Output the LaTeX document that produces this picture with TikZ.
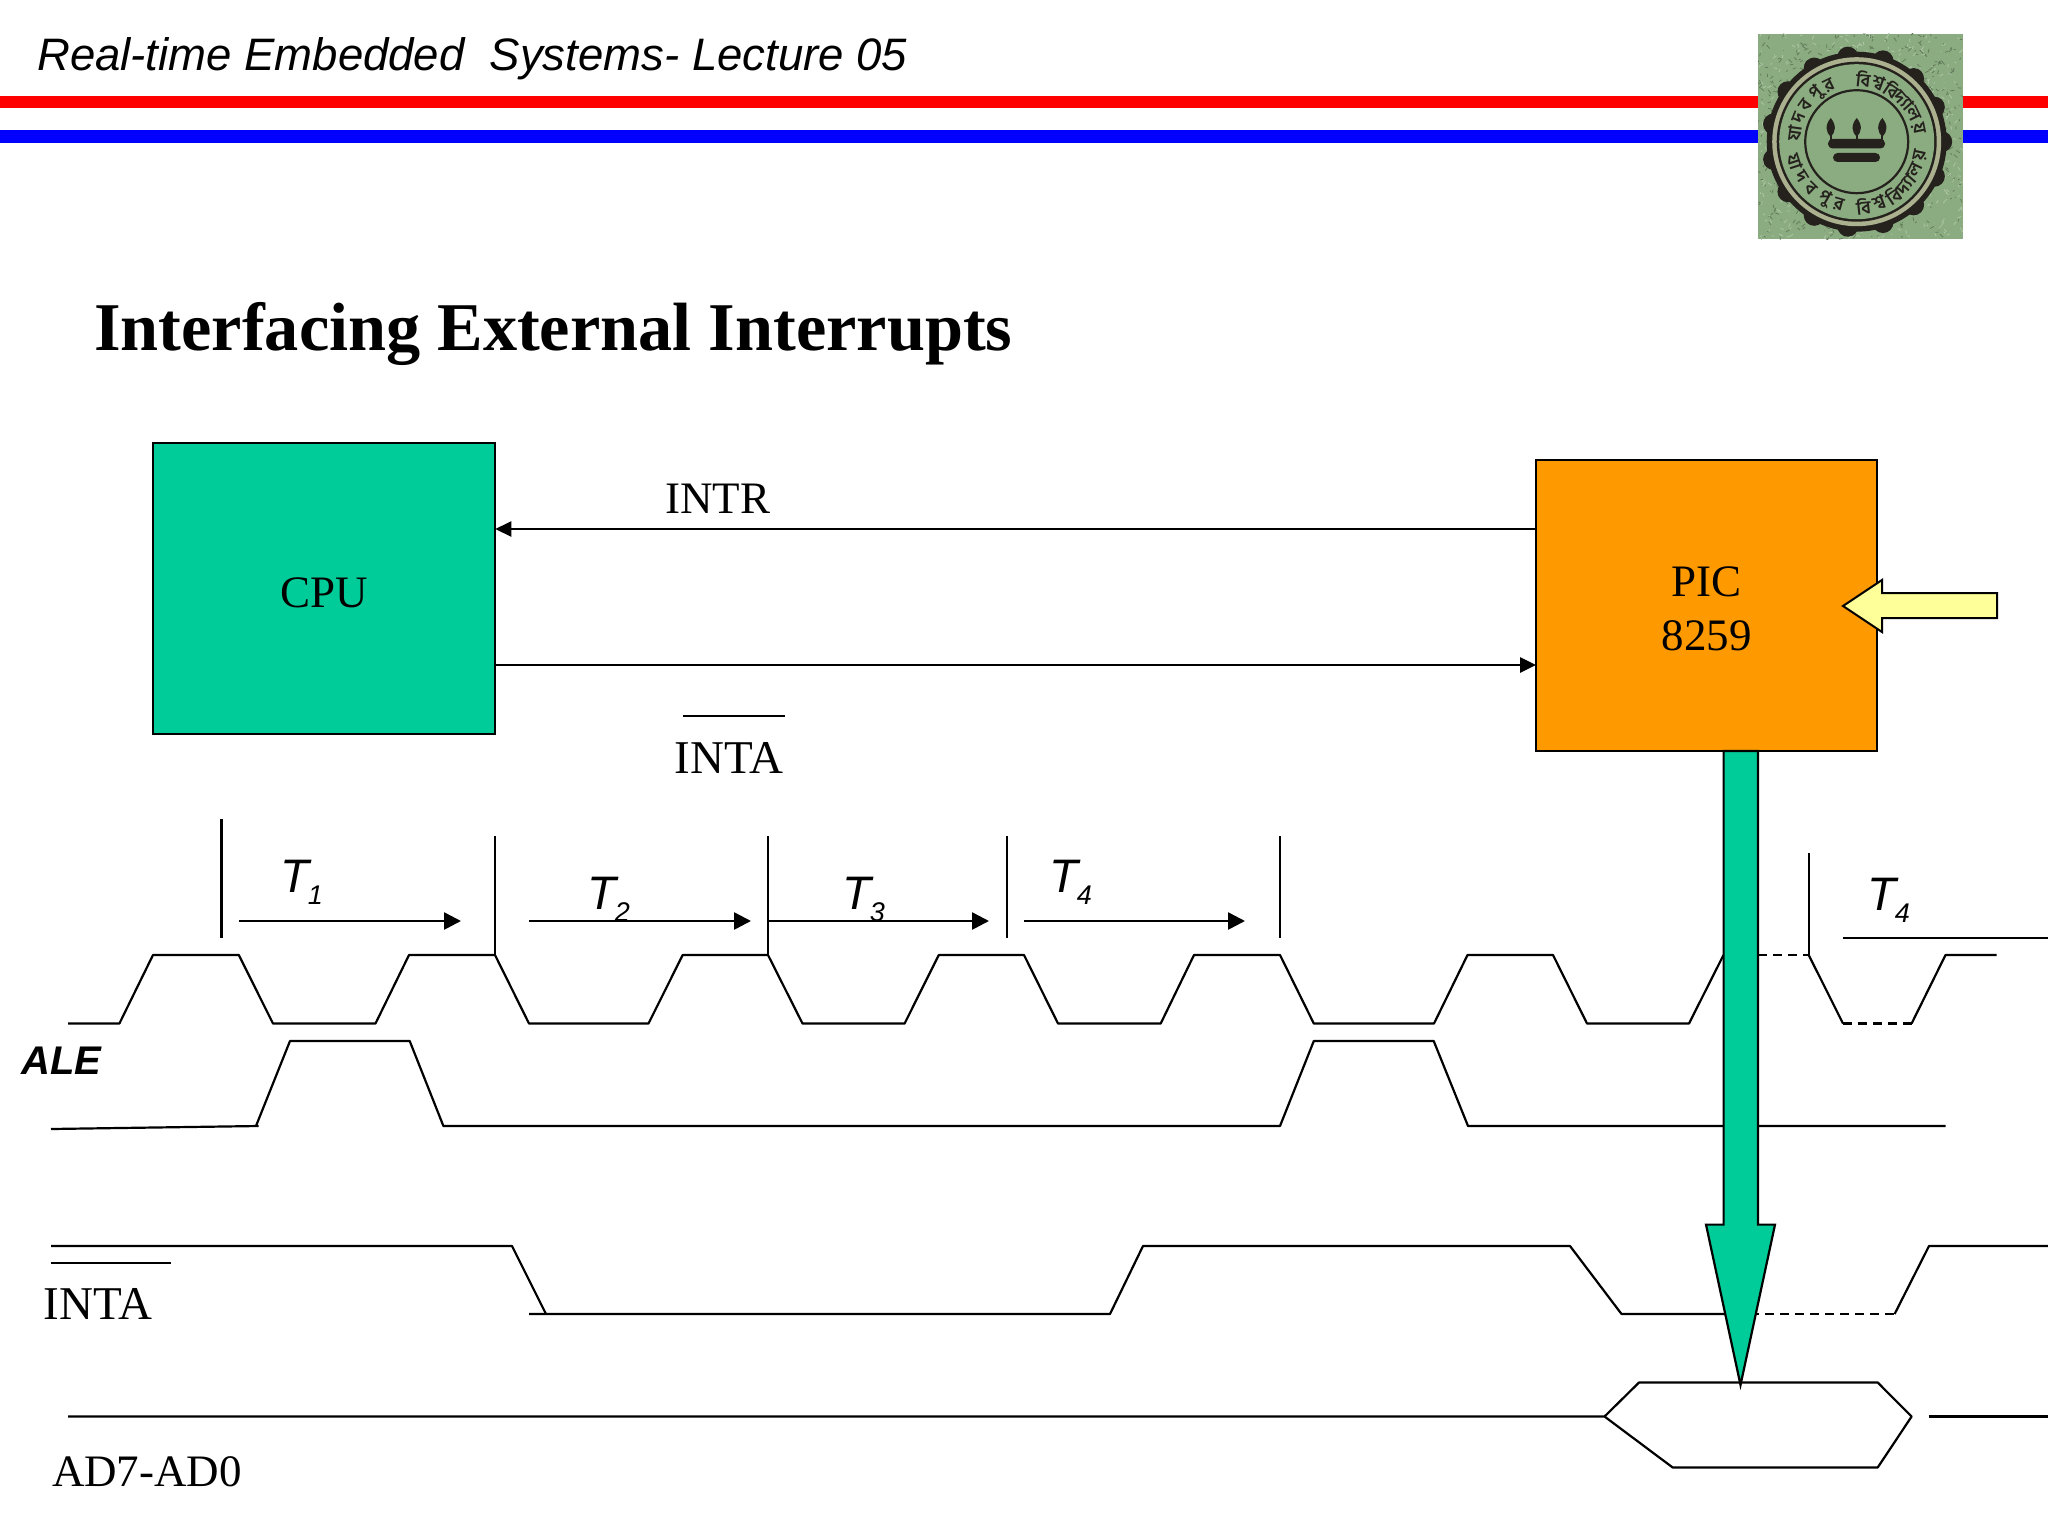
\documentclass[tikz,border=0pt]{standalone}
\usepackage{fontspec}
\setmainfont{Liberation Serif}
\newfontfamily\hdsans{Liberation Sans}
\newfontfamily\bengfont[Script=Bengali]{Hind Siliguri}
\usetikzlibrary{arrows.meta,calc}
\definecolor{cpugreen}{HTML}{00CC99}
\definecolor{picorange}{HTML}{FF9900}
\definecolor{paleyellow}{HTML}{FFFF99}
\definecolor{logogreen}{HTML}{8BAC80}
\definecolor{logodark}{HTML}{25221E}
\definecolor{logotan}{HTML}{ABB08F}
\newcommand{\fs}[1]{\fontsize{#1}{#1}\selectfont}
\newcommand{\Tsub}[1]{{\hdsans\itshape\fs{47}T\raisebox{-12pt}{\kern -1pt\fs{27}#1}}}
\tikzset{
  x=1pt,y=-1pt,
  sig/.style={line width=2.2pt,line join=round},
  dashsig/.style={line width=2.2pt,dash pattern=on 9pt off 6pt},
  tick/.style={line width=2.2pt},
  timearrow/.style={line width=2.6pt,-{Triangle[length=17pt,width=17pt]}},
  linkarrow/.style={line width=2.6pt,-{Triangle[length=16pt,width=15pt]}},
  block/.style={draw=black,line width=2.2pt,inner sep=0pt,outer sep=0pt,align=center,font=\fs{45}},
  lbl/.style={inner sep=0pt,font=\fs{47}},
  lblsmall/.style={inner sep=0pt,font=\fs{45}},
  tlbl/.style={inner sep=0pt,anchor=base west},
  seal/.style={inner sep=0pt,text=logodark,font=\bengfont\bfseries\fs{18}}
}
\begin{document}
\begin{tikzpicture}
\useasboundingbox (0,0) rectangle (2048,1536);
\fill[white] (0,0) rectangle (2048,1536);
% header
\fill[red] (0,96) rectangle (2048,108);
\fill[blue] (0,130) rectangle (2048,143);
\node[inner sep=0pt,anchor=base west,font=\hdsans\itshape\fs{45.5}] (header) at (37,71) {Real-time Embedded\ \ Systems- Lecture 05};
\node[inner sep=0pt,anchor=base west,font=\bfseries\fs{68.3}] (title) at (94,350) {Interfacing External Interrupts};
% logo
\begin{scope}
\clip (1758,34) rectangle (1963,239);
\fill[logogreen] (1758,34) rectangle (1963,239);
\pgfmathsetseed{7}
\foreach \k in {1,...,1100}{
  \pgfmathsetmacro{\xa}{1758+205*rnd}
  \pgfmathsetmacro{\ya}{34+205*rnd}
  \pgfmathsetmacro{\da}{-4+8*rnd}
  \pgfmathsetmacro{\db}{-4+8*rnd}
  \pgfmathparse{rnd<0.5?1:0}
  \ifnum\pgfmathresult=1
    \draw[line width=0.8pt,logogreen!72!black] (\xa,\ya) -- ++(\da,\db);
  \else
    \draw[line width=0.8pt,logogreen!70!white] (\xa,\ya) -- ++(\da,\db);
  \fi
}
\end{scope}
\foreach \a in {0,24,...,336}{
  \fill[logodark] (1856.7,141.7) ++(\a:85) circle[radius=10.5];
}
\fill[logodark] (1856.7,141.7) circle[radius=90];
\fill[logotan] (1856.7,141.7) circle[radius=84.5];
\fill[logodark] (1856.7,141.7) circle[radius=80];
\fill[logogreen] (1856.7,141.7) circle[radius=77.5];
\draw[logodark,line width=2.2pt] (1856.7,141.7) circle[radius=51.5];
\foreach \a/\t [count=\i] in {172/যা,158/দ,144/ব,130/পু,116/র,84/বি,70/শ্ব,56/বি,41/দ্যা,26/ল,12/য়}{
  \pgfmathsetmacro{\ang}{-\a}
  \node[seal,rotate=\a-90,name=sealtop\i] at ($(1856.7,141.7)+(\ang:63)$) {\t};
}
\foreach \a/\t [count=\i] in {198/যা,212/দ,226/ব,240/পু,254/র,276/বি,290/শ্ব,304/বি,319/দ্যা,334/ল,348/য়}{
  \pgfmathsetmacro{\ang}{-\a}
  \node[seal,rotate=\a+90,name=sealbot\i] at ($(1856.7,141.7)+(\ang:65)$) {\t};
}
\fill[logodark,rounded corners=4.5pt] (1828,139) rectangle (1885,148.5);
\fill[logodark,rounded corners=4.5pt] (1833,153) rectangle (1880,162);
\foreach \fx in {1830.7,1856.7,1882.3}{
  \fill[logodark] (\fx,118) .. controls (\fx+6,125) and (\fx+5,132) .. (\fx,137) .. controls (\fx-5,132) and (\fx-6,125) .. (\fx,118) -- cycle;
}
\draw[logodark,line width=2pt] (1830.7,130) -- (1830.7,140) (1856.7,130) -- (1856.7,140) (1882.3,130) -- (1882.3,140);
% blocks
\node[block,fill=cpugreen,minimum width=342pt,minimum height=291pt] (cpu) at (324.3,588.5) {};
\node[block,fill=picorange,minimum width=341pt,minimum height=291pt] (pic) at (1706.5,605.5) {};
\node[lblsmall] (cputext) at ($(cpu.center)+(0,4)$) {CPU};
\node[lblsmall,align=center] (pictext) at ($(pic.center)+(0,3)$) {PIC\\[9pt]8259};
\coordinate (intrY) at (0,529);
\coordinate (intaY) at (0,665);
\draw[linkarrow] (pic.west |- intrY) -- (cpu.east |- intrY);
\draw[linkarrow] (cpu.east |- intaY) -- (pic.west |- intaY);
\node[lblsmall] (intr) at (718,499) {INTR};
\node[lbl] (inta) at (729,758) {INTA};
\draw[line width=2pt] (683,716) -- (785,716);
% yellow input arrow
\draw[fill=paleyellow,line width=2pt,line join=miter] (1843,606) -- (1882,580) -- (1882,593) -- (1997,593) -- (1997,618) -- (1882,618) -- (1882,632) -- cycle;
% period ticks
\draw[tick] (221.4,819) -- (221.4,938);
\draw[tick] (495,836) -- (495,955);
\draw[tick] (768,836) -- (768,955);
\draw[tick] (1007,836) -- (1007,938);
\draw[tick] (1280,836) -- (1280,938);
\draw[tick] (1808.7,853) -- (1808.7,955);
\draw[timearrow] (239,921) -- (461,921);
\draw[timearrow] (529,921) -- (751,921);
\draw[timearrow] (768,921) -- (989,921);
\draw[timearrow] (1024,921) -- (1245,921);
\draw[line width=2.6pt] (1843,938) -- (2048,938);
\node[tlbl] (t1) at (280,892) {\Tsub{1}};
\node[tlbl] (t2) at (587,909) {\Tsub{2}};
\node[tlbl] (t3) at (842,909) {\Tsub{3}};
\node[tlbl] (t4) at (1049,892) {\Tsub{4}};
\node[tlbl] (t4b) at (1867,910) {\Tsub{4}};
% clock
\draw[sig] (68,1023.5) -- (119.4,1023.5) -- (153,955) -- (238.8,955) -- (273,1023.5) -- (375.5,1023.5) -- (409,955) -- (495,955) -- (529,1023.5) -- (648.5,1023.5) -- (682.7,955) -- (768,955) -- (802.5,1023.5) -- (904.6,1023.5) -- (938.8,955) -- (1024,955) -- (1058,1023.5) -- (1160.7,1023.5) -- (1194,955) -- (1280,955) -- (1313.8,1023.5) -- (1434,1023.5) -- (1467.5,955) -- (1553,955) -- (1587,1023.5) -- (1689,1023.5) -- (1723.5,955);
\draw[dashsig] (1758,955) -- (1808.7,955);
\draw[sig] (1808.7,955) -- (1843,1023.5);
\draw[dashsig] (1843,1023.5) -- (1911.6,1023.5);
\draw[sig] (1911.6,1023.5) -- (1945.5,955) -- (1996.7,955);
% ALE
\draw[sig] (51,1129) -- (258.7,1126);
\draw[sig] (256,1126) -- (290,1041) -- (409.7,1041) -- (443.4,1126) -- (1280,1126) -- (1313.8,1041) -- (1433.7,1041) -- (1468,1126) -- (1945.5,1126);
\node[inner sep=0pt,anchor=base west,font=\hdsans\bfseries\itshape\fs{40}] (ale) at (21,1074) {ALE};
% INTA wave
\draw[sig] (51,1246) -- (512,1246) -- (546,1314);
\draw[sig] (529,1314) -- (1110,1314) -- (1143,1246) -- (1570,1246) -- (1621.5,1314) -- (1730,1314);
\draw[dashsig] (1750,1314) -- (1894.6,1314);
\draw[sig] (1894.6,1314) -- (1929,1246) -- (2048,1246);
\draw[sig] (51,1263) -- (171,1263);
\node[lbl] (intaw) at (98,1304) {INTA};
% AD
\draw[sig] (68,1416.5) -- (1604.5,1416.5) -- (1639,1382.5) -- (1877.7,1382.5) -- (1911.6,1416.5) -- (1877.7,1467.5) -- (1672.7,1467.5) -- (1604.5,1416.5);
\draw[sig] (1928.5,1416.5) -- (2048,1416.5);
\node[lblsmall] (ad) at (147,1472) {AD7-AD0};
% big arrow
\draw[fill=cpugreen,line width=2.2pt,line join=miter] (1723.6,751) -- (1758,751) -- (1758,1224.6) -- (1775,1224.6) -- (1740.5,1385) -- (1706,1224.6) -- (1723.6,1224.6) -- cycle;
\end{tikzpicture}
\end{document}
